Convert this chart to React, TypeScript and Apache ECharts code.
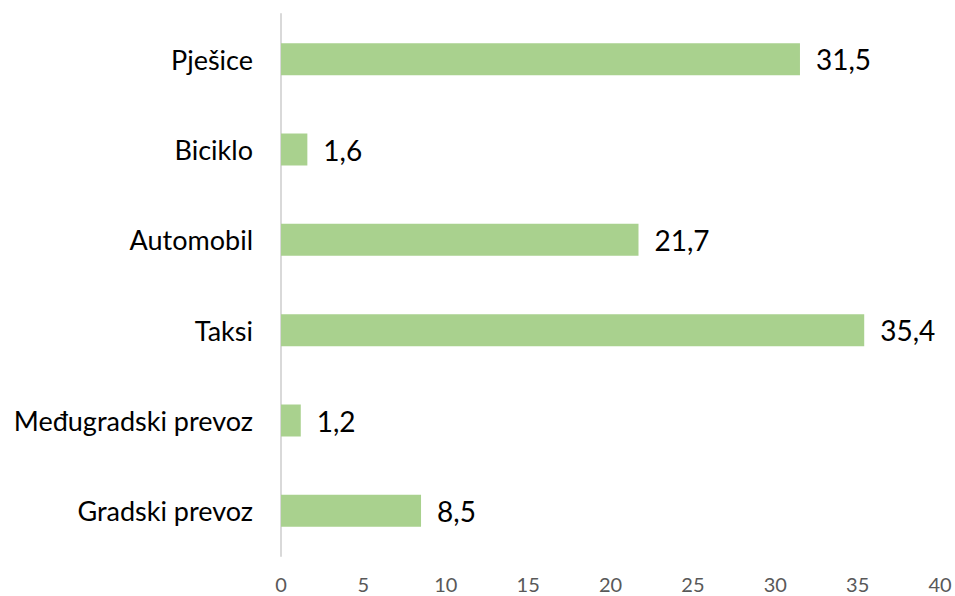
import React, { useEffect, useRef } from "react";
import * as echarts from "echarts";

const categories = ["Gradski prevoz", "Međugradski prevoz", "Taksi", "Automobil", "Biciklo", "Pješice"];
const values = [8.5, 1.2, 35.4, 21.7, 1.6, 31.5];

const FONT = "Lato, 'Open Sans', sans-serif";

export default function App() {
  const ref = useRef<HTMLDivElement>(null);
  useEffect(() => {
    if (!ref.current) return;
    const chart = echarts.init(ref.current, null, { renderer: "svg" });
    chart.setOption({
      animation: false,
      backgroundColor: "#ffffff",
      grid: { left: 281, right: 15, top: 14, bottom: 40, containLabel: false },
      xAxis: {
        type: "value",
        min: 0,
        max: 40,
        interval: 5,
        axisLine: { show: false },
        axisTick: { show: false },
        splitLine: { show: false },
        axisLabel: { color: "#595959", fontSize: 20, fontFamily: FONT, margin: 18 },
      },
      yAxis: {
        type: "category",
        data: categories,
        axisLine: { show: true, lineStyle: { color: "#d9d9d9", width: 2 } },
        axisTick: { show: false },
        axisLabel: { color: "#000000", fontSize: 27, fontFamily: FONT, margin: 28 },
      },
      series: [
        {
          type: "bar",
          data: values,
          barWidth: 32,
          itemStyle: { color: "#a9d18e" },
          label: {
            show: true,
            position: "right",
            distance: 16,
            color: "#000000",
            fontSize: 28,
            fontFamily: FONT,
            formatter: (p: any) => String(p.value).replace(".", ","),
          },
        },
      ],
    });
    return () => chart.dispose();
  }, []);
  return (
    <div
      ref={ref}
      style={{ position: "fixed", left: 0, top: 0, width: 955, height: 596, background: "#fff" }}
    />
  );
}
